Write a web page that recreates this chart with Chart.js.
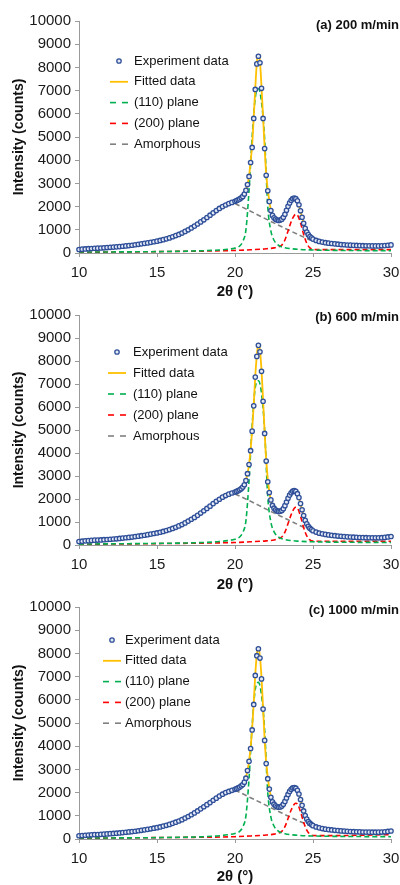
<!DOCTYPE html>
<html>
<head>
<meta charset="utf-8">
<script src="https://cdn.jsdelivr.net/npm/chart.js@4.4.0/dist/chart.umd.min.js"></script>
<style>
  html, body { margin: 0; padding: 0; background: #fff; }
  #wrap { position: relative; width: 400px; height: 885px; overflow: hidden; }
  .panel { position: absolute; left: 0; width: 400px; height: 300px; }
</style>
</head>
<body>
<div id="wrap">
  <div class="panel" style="top:0px"><canvas id="chartA" width="400" height="300"></canvas></div>
  <div class="panel" style="top:293px"><canvas id="chartB" width="400" height="300"></canvas></div>
  <div class="panel" style="top:585px"><canvas id="chartC" width="400" height="300"></canvas></div>
</div>
<script>
// 2θ grid of the measured points (degrees)
const twoTheta = [
  10, 10.2, 10.4, 10.6, 10.8, 11, 11.2, 11.4, 11.6, 11.8,
  12, 12.2, 12.4, 12.6, 12.8, 13, 13.2, 13.4, 13.6, 13.8,
  14, 14.2, 14.4, 14.6, 14.8, 15, 15.2, 15.4, 15.6, 15.8,
  16, 16.2, 16.4, 16.6, 16.8, 17, 17.2, 17.4, 17.6, 17.8,
  18, 18.2, 18.4, 18.6, 18.8, 19, 19.2, 19.4, 19.6, 19.8,
  20, 20.1, 20.2, 20.3, 20.4, 20.5, 20.6, 20.7, 20.8, 20.9,
  21, 21.1, 21.2, 21.3, 21.4, 21.5, 21.6, 21.7, 21.8, 21.9,
  22, 22.1, 22.2, 22.3, 22.4, 22.5, 22.6, 22.7, 22.8, 22.9,
  23, 23.1, 23.2, 23.3, 23.4, 23.5, 23.6, 23.7, 23.8, 23.9,
  24, 24.1, 24.2, 24.3, 24.4, 24.5, 24.6, 24.7, 24.8, 24.9,
  25, 25.2, 25.4, 25.6, 25.8, 26, 26.2, 26.4, 26.6, 26.8,
  27, 27.2, 27.4, 27.6, 27.8, 28, 28.2, 28.4, 28.6, 28.8,
  29, 29.2, 29.4, 29.6, 29.8, 30
];

// Experiment data (counts)
const expA = [
  150, 165, 175, 185, 195, 205, 210, 215, 225, 235,
  245, 255, 265, 275, 290, 305, 320, 335, 355, 375,
  395, 415, 435, 460, 485, 510, 540, 575, 610, 650,
  700, 750, 800, 860, 930, 1000, 1080, 1160, 1250, 1340,
  1430, 1530, 1630, 1730, 1830, 1920, 2000, 2070, 2130, 2180,
  2230, 2260, 2290, 2330, 2380, 2440, 2540, 2700, 2950, 3300,
  3900, 4550, 5800, 7050, 8150, 8480, 8200, 7100, 5800, 4500,
  3350, 2680, 2215, 1830, 1620, 1520, 1460, 1420, 1400, 1420,
  1460, 1540, 1670, 1840, 2010, 2160, 2270, 2340, 2370, 2340,
  2250, 2080, 1820, 1540, 1280, 1060, 900, 790, 710, 650,
  600, 540, 500, 470, 445, 425, 410, 395, 380, 365,
  355, 345, 338, 330, 325, 320, 315, 310, 308, 305,
  305, 305, 310, 320, 335, 350
];
const expB = [
  150, 165, 180, 190, 200, 210, 215, 220, 230, 240,
  250, 260, 270, 285, 300, 315, 330, 345, 365, 385,
  405, 425, 450, 475, 500, 525, 555, 590, 630, 670,
  720, 770, 830, 890, 960, 1040, 1120, 1200, 1290, 1390,
  1490, 1590, 1690, 1800, 1900, 1990, 2080, 2150, 2210, 2260,
  2300, 2330, 2360, 2400, 2450, 2520, 2620, 2800, 3100, 3500,
  4100, 4950, 6050, 7300, 8200, 8680, 8400, 7550, 6250, 4850,
  3650, 2750, 2280, 1960, 1720, 1600, 1530, 1480, 1460, 1470,
  1500, 1580, 1710, 1870, 2030, 2170, 2270, 2340, 2360, 2330,
  2230, 2060, 1800, 1530, 1280, 1070, 920, 810, 730, 670,
  620, 560, 515, 485, 460, 440, 420, 405, 390, 378,
  365, 355, 347, 340, 333, 327, 322, 318, 315, 313,
  312, 313, 318, 330, 350, 370
];
const expC = [
  140, 150, 160, 170, 180, 190, 195, 200, 210, 220,
  230, 240, 250, 260, 275, 290, 305, 320, 335, 355,
  375, 395, 415, 440, 465, 490, 520, 555, 590, 630,
  675, 725, 775, 835, 900, 970, 1045, 1125, 1210, 1300,
  1390, 1480, 1570, 1670, 1760, 1850, 1930, 2000, 2050, 2100,
  2140, 2170, 2200, 2240, 2290, 2350, 2450, 2620, 2950, 3350,
  3900, 4700, 5800, 7050, 7900, 8200, 7800, 6900, 5600, 4250,
  3250, 2600, 2150, 1800, 1600, 1500, 1430, 1390, 1370, 1380,
  1420, 1500, 1620, 1770, 1920, 2050, 2140, 2200, 2220, 2190,
  2100, 1940, 1700, 1450, 1210, 1010, 860, 750, 680, 620,
  575, 520, 480, 450, 425, 405, 390, 375, 362, 350,
  340, 330, 322, 315, 310, 305, 300, 297, 295, 293,
  293, 295, 300, 310, 325, 345
];

// Fitted curve
const fitTheta = [10, 12, 14, 16, 18, 19, 19.5, 20, 20.3, 20.6, 20.8, 20.9,
  21, 21.1, 21.2, 21.3, 21.4, 21.5, 21.6, 21.7, 21.8, 21.9, 22,
  22.2, 22.4, 22.6, 22.8, 23, 23.2, 23.4, 23.6, 23.8,
  24, 24.2, 24.4, 24.6, 24.8, 25, 26, 28, 30];
const fitA = [160, 250, 400, 700, 1430, 1920, 2100, 2230, 2330, 2530, 2950, 3300,
  3950, 4650, 5850, 7100, 8200, 8560, 8250, 7150, 5850, 4550, 3400,
  2230, 1630, 1470, 1410, 1470, 1680, 2020, 2280, 2380,
  2250, 1800, 1270, 900, 700, 600, 420, 320, 300];
const fitB = [160, 255, 410, 720, 1490, 1990, 2180, 2300, 2400, 2610, 3100, 3500,
  4150, 5000, 6100, 7350, 8250, 8760, 8450, 7600, 6300, 4900, 3700,
  2300, 1730, 1540, 1460, 1500, 1710, 2040, 2280, 2370,
  2240, 1790, 1270, 910, 720, 620, 440, 325, 310];
const fitC = [150, 230, 375, 675, 1390, 1850, 2030, 2140, 2240, 2440, 2950, 3350,
  3950, 4750, 5850, 7100, 7950, 8280, 7850, 6950, 5650, 4300, 3300,
  2170, 1610, 1430, 1370, 1420, 1620, 1930, 2150, 2230,
  2110, 1700, 1210, 860, 680, 575, 405, 305, 295];

// (110) plane peak
const plane110Theta = [10, 15, 18, 19, 19.5, 20, 20.3, 20.5, 20.7, 20.9, 21.1, 21.3,
  21.5, 21.7, 21.9, 22.1, 22.3, 22.5, 22.8, 23.2, 24, 25, 27, 30];
const p110A = [40, 60, 100, 130, 160, 210, 300, 500, 1000, 2700, 5000, 6700,
  7080, 6500, 4900, 2000, 950, 550, 330, 230, 160, 130, 110, 100];
const p110B = [40, 70, 110, 150, 190, 250, 350, 550, 1050, 2800, 5200, 6850,
  7140, 6600, 5000, 2100, 1000, 580, 340, 240, 170, 140, 120, 110];
const p110C = [40, 60, 100, 140, 180, 240, 330, 520, 1000, 2600, 4900, 6450,
  6750, 6200, 4700, 2000, 950, 560, 330, 230, 160, 130, 110, 100];

// (200) plane peak
const plane200Theta = [10, 15, 20, 21, 22, 22.5, 22.8, 23, 23.2, 23.4, 23.6, 23.8,
  23.9, 24, 24.2, 24.4, 24.6, 24.8, 25, 25.5, 27, 30];
const p200A = [30, 60, 110, 140, 180, 220, 270, 340, 560, 950, 1350, 1620,
  1670, 1640, 1300, 800, 420, 220, 160, 145, 145, 145];
const p200B = [30, 60, 110, 140, 180, 220, 280, 350, 560, 930, 1320, 1600,
  1640, 1610, 1250, 760, 400, 220, 170, 160, 160, 160];
const p200C = [30, 60, 100, 130, 170, 210, 260, 330, 530, 880, 1250, 1500,
  1540, 1510, 1180, 720, 380, 210, 150, 145, 150, 190];

// Amorphous halo (visible part)
const amorphTheta = [20, 21, 22, 23, 24, 24.8];
const amA = [2130, 1800, 1460, 1130, 810, 560];
const amB = [2220, 1900, 1560, 1230, 900, 650];
const amC = [2110, 1780, 1450, 1120, 800, 575];

const FONT = '"Liberation Sans", Arial, sans-serif';
Chart.defaults.font.family = FONT;
Chart.defaults.color = '#1a1a1a';

// panel label + legend drawn inside the plot
const panelDecor = {
  id: 'panelDecor',
  afterDraw(chart, args, opts) {
    const ctx = chart.ctx;
    ctx.save();
    ctx.fillStyle = '#111';
    ctx.font = 'bold 13px ' + FONT;
    ctx.textAlign = 'right';
    ctx.textBaseline = 'middle';
    ctx.fillText(opts.label, 399, opts.labelY);

    ctx.font = '13px ' + FONT;
    ctx.textAlign = 'left';
    chart.data.datasets.forEach((ds, i) => {
      const y = opts.legendY + i * opts.legendGap;
      const mx = opts.markerX;
      if (ds.showLine === false) {
        ctx.beginPath();
        ctx.arc(mx, y, ds.pointRadius, 0, Math.PI * 2);
        ctx.fillStyle = ds.pointBackgroundColor;
        ctx.fill();
        ctx.lineWidth = ds.pointBorderWidth;
        ctx.strokeStyle = ds.pointBorderColor;
        ctx.stroke();
      } else {
        ctx.beginPath();
        ctx.setLineDash(ds.borderDash ? [6, 6] : []);
        ctx.lineWidth = ds.borderWidth;
        ctx.strokeStyle = ds.borderColor;
        ctx.moveTo(mx - 9, y);
        ctx.lineTo(mx + 9, y);
        ctx.stroke();
        ctx.setLineDash([]);
      }
      ctx.fillStyle = '#111';
      ctx.fillText(ds.label, opts.textX, y);
    });
    ctx.restore();
  }
};

function pts(xs, ys) {
  return xs.map((x, i) => ({ x: x, y: ys[i] }));
}

function makePanel(id, exp, fit, p110, p200, amorph, pos) {
  const dashed = (label, data, color) => ({
    label: label,
    data: data,
    borderColor: color,
    borderWidth: 1.6,
    borderDash: [5, 3],
    pointRadius: 0,
    cubicInterpolationMode: 'monotone'
  });

  return new Chart(document.getElementById(id), {
    type: 'line',
    data: {
      datasets: [
        {
          label: 'Experiment data',
          data: pts(twoTheta, exp),
          showLine: false,
          pointRadius: 2.2,
          pointBorderWidth: 1.3,
          pointBorderColor: '#2f4f99',
          pointBackgroundColor: '#e4eaf6',
          clip: false
        },
        {
          label: 'Fitted data',
          data: pts(fitTheta, fit),
          borderColor: '#FFC000',
          borderWidth: 1.8,
          pointRadius: 0,
          cubicInterpolationMode: 'monotone'
        },
        dashed('(110) plane', pts(plane110Theta, p110), '#00B050'),
        dashed('(200) plane', pts(plane200Theta, p200), '#FF0000'),
        dashed('Amorphous', pts(amorphTheta, amorph), '#808080')
      ]
    },
    options: {
      responsive: false,
      animation: false,
      devicePixelRatio: 1,
      layout: { padding: { top: pos.top, right: 9, left: 0, bottom: 0 } },
      plugins: {
        legend: { display: false },
        tooltip: { enabled: false },
        panelDecor: pos.decor
      },
      scales: {
        x: {
          type: 'linear',
          min: 10,
          max: 30,
          afterFit: s => { s.height = pos.xh; s.paddingRight = 0; s.paddingLeft = 0; },
          border: { color: '#9a9a9a' },
          grid: { drawOnChartArea: false, tickLength: 4, color: '#9a9a9a' },
          ticks: { stepSize: 5, padding: 7, font: { size: 15 }, maxRotation: 0 },
          title: { display: true, text: '2θ (°)', font: { size: 15, weight: 'bold' }, padding: { top: 0, bottom: -1 }, color: '#111' }
        },
        y: {
          min: 0,
          max: 10000,
          afterFit: s => { s.width = 79; },
          border: { color: '#9a9a9a' },
          grid: { drawOnChartArea: false, tickLength: 4, color: '#9a9a9a' },
          ticks: { stepSize: 1000, padding: 4, font: { size: 15 }, callback: v => String(v) },
          title: { display: true, text: 'Intensity (counts)', font: { size: 14, weight: 'bold' }, padding: { top: 11, bottom: 0 }, color: '#111' }
        }
      }
    },
    plugins: [panelDecor]
  });
}

makePanel('chartA', expA, fitA, p110A, p200A, amA, {
  top: 21, xh: 47,
  decor: { label: '(a) 200 m/min', labelY: 25, markerX: 119, textX: 134, legendY: 61, legendGap: 20.8 }
});
makePanel('chartB', expB, fitB, p110B, p200B, amB, {
  top: 22, xh: 48,
  decor: { label: '(b) 600 m/min', labelY: 24, markerX: 117, textX: 133, legendY: 59, legendGap: 21 }
});
makePanel('chartC', expC, fitC, p110C, p200C, amC, {
  top: 22, xh: 46,
  decor: { label: '(c) 1000 m/min', labelY: 25, markerX: 112, textX: 125, legendY: 55, legendGap: 20.8 }
});
</script>
</body>
</html>
